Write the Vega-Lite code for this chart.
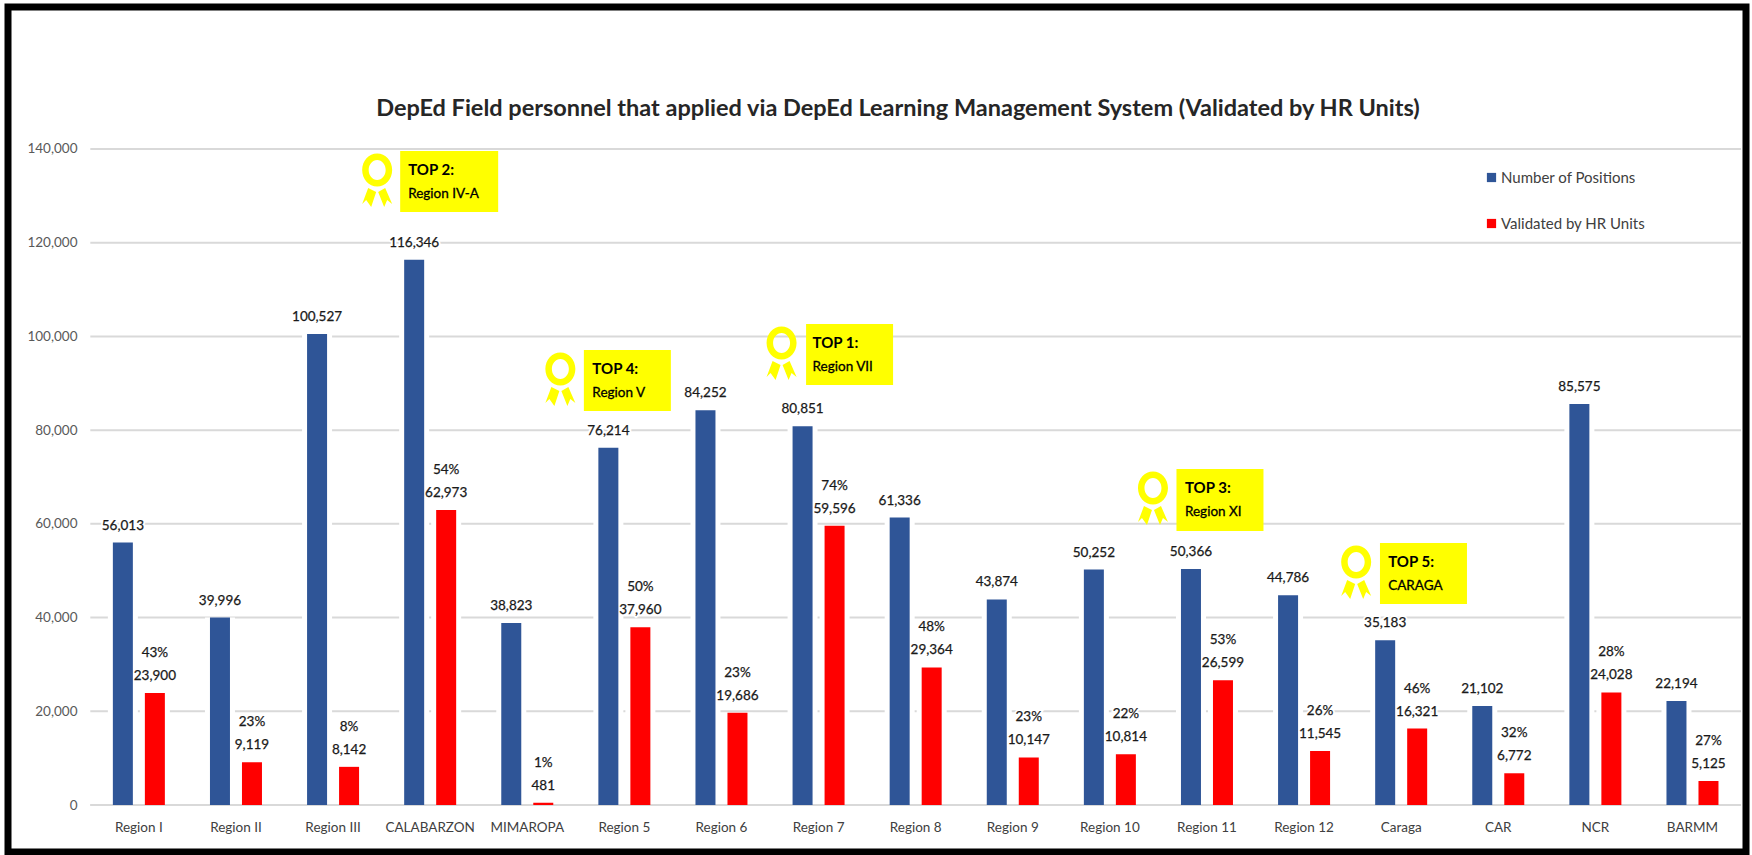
{
"$schema":"https://vega.github.io/schema/vega-lite/v6.json",
"autosize":"none","background":"white",
"padding":{"left":8,"top":7,"right":6,"bottom":3},
"width":1738,"height":845,
"view":{"stroke":"#000000","strokeWidth":7,"fill":"white"},
"title":{"text":"DepEd Field personnel that applied via DepEd Learning Management System (Validated by HR Units)","font":"Lato","fontSize":23.5,"fontWeight":"bold","color":"#262626","anchor":"middle","frame":"group","offset":-125,"dx":21,"baseline":"middle"},
"datasets":{
"bars":[
{"region":"Region I","series":"Number of Positions","value":56013},{"region":"Region I","series":"Validated by HR Units","value":23900,"pct":"43%"},
{"region":"Region II","series":"Number of Positions","value":39996},{"region":"Region II","series":"Validated by HR Units","value":9119,"pct":"23%"},
{"region":"Region III","series":"Number of Positions","value":100527},{"region":"Region III","series":"Validated by HR Units","value":8142,"pct":"8%"},
{"region":"CALABARZON","series":"Number of Positions","value":116346},{"region":"CALABARZON","series":"Validated by HR Units","value":62973,"pct":"54%"},
{"region":"MIMAROPA","series":"Number of Positions","value":38823},{"region":"MIMAROPA","series":"Validated by HR Units","value":481,"pct":"1%"},
{"region":"Region 5","series":"Number of Positions","value":76214},{"region":"Region 5","series":"Validated by HR Units","value":37960,"pct":"50%"},
{"region":"Region 6","series":"Number of Positions","value":84252},{"region":"Region 6","series":"Validated by HR Units","value":19686,"pct":"23%"},
{"region":"Region 7","series":"Number of Positions","value":80851},{"region":"Region 7","series":"Validated by HR Units","value":59596,"pct":"74%"},
{"region":"Region 8","series":"Number of Positions","value":61336},{"region":"Region 8","series":"Validated by HR Units","value":29364,"pct":"48%"},
{"region":"Region 9","series":"Number of Positions","value":43874},{"region":"Region 9","series":"Validated by HR Units","value":10147,"pct":"23%"},
{"region":"Region 10","series":"Number of Positions","value":50252},{"region":"Region 10","series":"Validated by HR Units","value":10814,"pct":"22%"},
{"region":"Region 11","series":"Number of Positions","value":50366},{"region":"Region 11","series":"Validated by HR Units","value":26599,"pct":"53%"},
{"region":"Region 12","series":"Number of Positions","value":44786},{"region":"Region 12","series":"Validated by HR Units","value":11545,"pct":"26%"},
{"region":"Caraga","series":"Number of Positions","value":35183},{"region":"Caraga","series":"Validated by HR Units","value":16321,"pct":"46%"},
{"region":"CAR","series":"Number of Positions","value":21102},{"region":"CAR","series":"Validated by HR Units","value":6772,"pct":"32%"},
{"region":"NCR","series":"Number of Positions","value":85575},{"region":"NCR","series":"Validated by HR Units","value":24028,"pct":"28%"},
{"region":"BARMM","series":"Number of Positions","value":22194},{"region":"BARMM","series":"Validated by HR Units","value":5125,"pct":"27%"}
],
"badges":[
{"region":"CALABARZON","rank":"TOP 2:","place":"Region IV-A","top":139570,"bottom":126550},
{"region":"Region 5","rank":"TOP 4:","place":"Region V","top":97100,"bottom":84080},
{"region":"Region 7","rank":"TOP 1:","place":"Region VII","top":102650,"bottom":89630},
{"region":"Region 11","rank":"TOP 3:","place":"Region XI","top":71700,"bottom":58470},
{"region":"Caraga","rank":"TOP 5:","place":"CARAGA","top":55910,"bottom":42890}
],
"grid":[{"tick":0},{"tick":20000},{"tick":40000},{"tick":60000},{"tick":80000},{"tick":100000},{"tick":120000},{"tick":140000}]
},
"encoding":{
"x":{"field":"region","type":"nominal","title":null,
 "scale":{"domain":["Region I","Region II","Region III","CALABARZON","MIMAROPA","Region 5","Region 6","Region 7","Region 8","Region 9","Region 10","Region 11","Region 12","Caraga","CAR","NCR","BARMM"],"paddingInner":0,"paddingOuter":0.4495,"align":0.943},
 "axis":{"orient":"bottom","offset":-47,"domain":false,"ticks":false,"labelAngle":0,"labelPadding":15,"labelFont":"Lato","labelFontSize":13.5,"labelColor":"#404040","grid":false}}
},
"layer":[
{"data":{"name":"grid"},"mark":{"type":"rule","color":"#d9d9d9","strokeWidth":2},
 "encoding":{
  "x":{"datum":"Region I","type":"nominal","bandPosition":0},
  "x2":{"datum":"BARMM","bandPosition":1},
  "y":{"field":"tick","type":"quantitative","title":null,
   "scale":{"domain":[-10030,170300],"nice":false,"zero":false},
   "axis":{"orient":"left","offset":-69,"values":[0,20000,40000,60000,80000,100000,120000,140000],"labelExpr":"format(datum.value, ',')","domain":false,"ticks":false,"grid":false,"labelPadding":0,"labelFont":"Lato","labelFontSize":13.5,"labelColor":"#595959"}}
 }},
{"data":{"name":"bars"},"mark":{"type":"bar","width":30,"color":"white"},
 "encoding":{
  "xOffset":{"field":"series","type":"nominal","scale":{"domain":["Number of Positions","Validated by HR Units"],"paddingInner":0,"paddingOuter":0.517}},
  "y":{"field":"value","type":"quantitative","stack":null}
 }},
{"data":{"name":"bars"},"mark":{"type":"text","font":"Lato","fontSize":13.5,"baseline":"middle","dy":-17,"stroke":"white","strokeWidth":4},
 "encoding":{
  "xOffset":{"field":"series","type":"nominal"},
  "y":{"field":"value","type":"quantitative","stack":null},
  "text":{"field":"value","type":"quantitative","format":","}
 }},
{"data":{"name":"bars"},"transform":[{"filter":"datum.pct != null"}],"mark":{"type":"text","font":"Lato","fontSize":13.5,"baseline":"middle","dy":-40,"stroke":"white","strokeWidth":4},
 "encoding":{
  "xOffset":{"field":"series","type":"nominal"},
  "y":{"field":"value","type":"quantitative","stack":null},
  "text":{"field":"pct","type":"nominal"}
 }},
{"data":{"name":"grid"},"transform":[{"filter":"datum.tick === 0"}],"mark":{"type":"rule","color":"#d9d9d9","strokeWidth":2},
 "encoding":{
  "x":{"datum":"Region I","type":"nominal","bandPosition":0},
  "x2":{"datum":"BARMM","bandPosition":1},
  "y":{"field":"tick","type":"quantitative"}
 }},
{"data":{"name":"bars"},"mark":{"type":"bar","width":20},
 "encoding":{
  "xOffset":{"field":"series","type":"nominal"},
  "y":{"field":"value","type":"quantitative","stack":null},
  "color":{"field":"series","type":"nominal","scale":{"domain":["Number of Positions","Validated by HR Units"],"range":["#2F5597","#FF0000"]},
   "legend":{"title":null,"orient":"none","legendX":1476,"legendY":163,"symbolType":"square","symbolSize":85,"symbolStrokeWidth":0,"labelFont":"Lato","labelFontSize":15,"labelColor":"#404040","rowPadding":30,"labelOffset":2,"padding":0}}
 }},
{"data":{"name":"bars"},"mark":{"type":"text","font":"Lato","fontSize":13.5,"baseline":"middle","dy":-17,"color":"#1a1a1a","stroke":"#1a1a1a","strokeWidth":0.25},
 "encoding":{
  "xOffset":{"field":"series","type":"nominal"},
  "y":{"field":"value","type":"quantitative","stack":null},
  "text":{"field":"value","type":"quantitative","format":","}
 }},
{"data":{"name":"bars"},"transform":[{"filter":"datum.pct != null"}],"mark":{"type":"text","font":"Lato","fontSize":13.5,"baseline":"middle","dy":-40,"color":"#1a1a1a","stroke":"#1a1a1a","strokeWidth":0.25},
 "encoding":{
  "xOffset":{"field":"series","type":"nominal"},
  "y":{"field":"value","type":"quantitative","stack":null},
  "text":{"field":"pct","type":"nominal"}
 }},
{"data":{"name":"badges"},"mark":{"type":"bar","color":"#FFFF00","width":{"expr":"datum.rank==='TOP 2:'?98:87"},"xOffset":{"expr":"{'TOP 2:':19,'TOP 4:':3,'TOP 1:':31,'TOP 3:':13,'TOP 5:':22.3}[datum.rank]"}},
 "encoding":{
  "y":{"field":"top","type":"quantitative"},
  "y2":{"field":"bottom"}
 }},
{"data":{"name":"badges"},"mark":{"type":"point","filled":true,"fill":"#FFFF00","strokeWidth":0,"opacity":1,"size":1600,
  "shape":"M0,-0.825 A0.75,0.825 0 1,1 0,0.825 A0.75,0.825 0 1,1 0,-0.825 Z M0,-0.5 A0.425,0.5 0 1,0 0,0.5 A0.425,0.5 0 1,0 0,-0.5 Z M-0.45,0.9 L-0.05,1.1 L-0.3,1.85 L-0.55,1.5 L-0.75,1.7 Z M0.05,1.1 L0.4,0.9 L0.75,1.7 L0.5,1.5 L0.35,1.85 Z",
  "yOffset":19,"xOffset":{"expr":"{'TOP 2:':-53,'TOP 4:':-64,'TOP 1:':-37,'TOP 3:':-54,'TOP 5:':-45}[datum.rank]"}},
 "encoding":{"y":{"field":"top","type":"quantitative"}}},
{"data":{"name":"badges"},"mark":{"type":"text","align":"left","baseline":"middle","font":"Lato","fontSize":15,"fontWeight":"bold","color":"#000000","dy":19,"dx":{"expr":"{'TOP 2:':-22,'TOP 4:':-32,'TOP 1:':-6,'TOP 3:':-22,'TOP 5:':-13}[datum.rank]"}},
 "encoding":{"y":{"field":"top","type":"quantitative"},"text":{"field":"rank","type":"nominal"}}},
{"data":{"name":"badges"},"mark":{"type":"text","align":"left","baseline":"middle","font":"Lato","fontSize":13.5,"color":"#000000","stroke":"#000000","strokeWidth":0.3,"dy":43,"dx":{"expr":"{'TOP 2:':-22,'TOP 4:':-32,'TOP 1:':-6,'TOP 3:':-22,'TOP 5:':-13}[datum.rank]"}},
 "encoding":{"y":{"field":"top","type":"quantitative"},"text":{"field":"place","type":"nominal"}}}
]
}
